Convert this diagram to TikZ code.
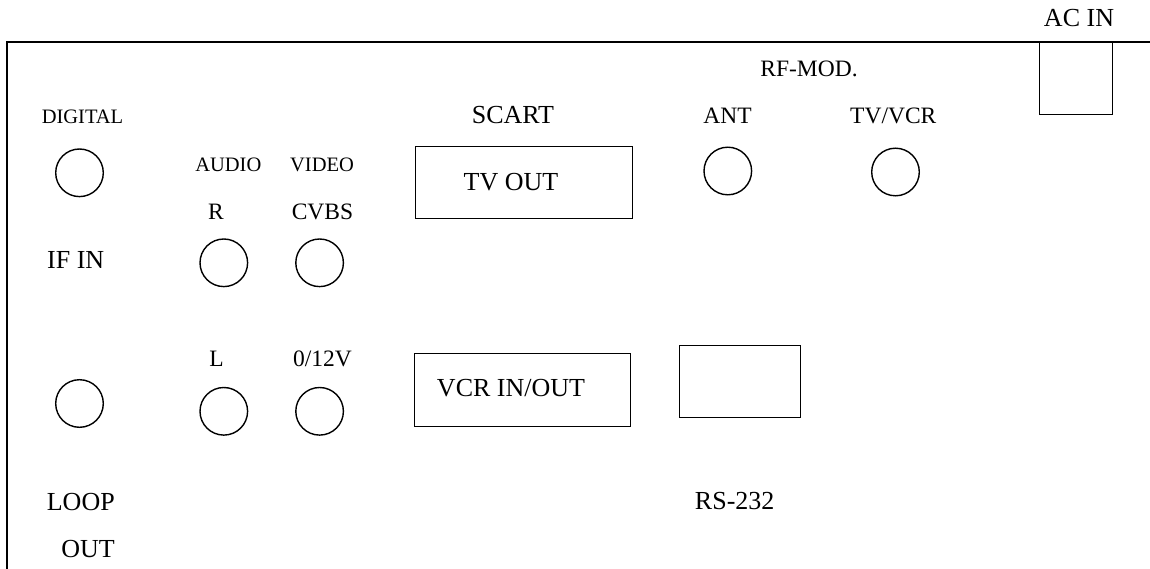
\documentclass[tikz,border=0pt]{standalone}
\usepackage{fontspec}
\setmainfont{Liberation Serif}
\begin{document}
\begin{tikzpicture}[x=1pt,y=-1pt,
  frameline/.style={line width=2pt, line join=miter},
  jack/.style={circle, draw, line width=1.4pt, minimum size=47.6pt, inner sep=0pt},
  port/.style={rectangle, draw, line width=1.4pt, inner sep=0pt},
  lblbig/.style={inner sep=0pt, text height=17pt, text depth=0pt, font=\fontsize{26}{30}\selectfont},
  lblmid/.style={inner sep=0pt, text height=15.4pt, text depth=0pt, font=\fontsize{23.5}{28}\selectfont},
  lblsmall/.style={inner sep=0pt, text height=13.4pt, text depth=0pt, font=\fontsize{20.5}{24}\selectfont}]
\useasboundingbox (0,0) rectangle (1150,569);
% panel frame
\coordinate (fbl) at (7,569);
\coordinate (ftl) at (7,42);
\coordinate (ftr) at (1150,42);
\draw[frameline] (fbl) -- (ftl) -- (ftr);
% AC IN
\node[port, minimum width=72.6pt, minimum height=72.3pt] (acbox) at (1076,78.2) {};
\node[lblbig] (aclbl) at (1079,18.5) {AC IN};
% RF modulator
\node[lblmid] (rflbl) at (809,69) {RF-MOD.};
\node[lblmid] (antlbl) at (727.5,116) {ANT};
\node[lblmid] (tvvcrlbl) at (893.3,116) {TV/VCR};
\node[jack] (ant) at (727.8,171) {};
\node[jack] (tvvcr) at (895.5,172) {};
% digital IF
\node[lblsmall] (diglbl) at (82.5,117) {DIGITAL};
\node[jack] (ifin) at (79.5,172.8) {};
\node[lblbig] (ifinlbl) at (75.7,260) {IF IN};
\node[jack] (loop) at (79.5,403.5) {};
\node[lblbig] (looplbl) at (80.8,501.5) {LOOP};
\node[lblbig] (outlbl) at (88,549) {OUT};
% audio / video
\node[lblsmall] (audiolbl) at (228.3,164.5) {AUDIO};
\node[lblsmall] (videolbl) at (322,164.5) {VIDEO};
\node[lblmid] (rlbl) at (216,211.5) {R};
\node[lblmid] (cvbslbl) at (322.5,211.5) {CVBS};
\node[jack] (aright) at (223.8,262.8) {};
\node[jack] (cvbs) at (319.6,262.8) {};
\node[lblmid] (llbl) at (216.5,358.5) {L};
\node[lblmid] (v12lbl) at (322.5,358.5) {0/12V};
\node[jack] (aleft) at (223.8,411.3) {};
\node[jack] (v12) at (319.6,411.3) {};
% SCART
\node[lblbig] (scartlbl) at (513,115.5) {SCART};
\node[port, minimum width=216.6pt, minimum height=71.6pt] (tvout) at (524,182.5) {};
\node[lblbig] (tvoutlbl) at (511,182) {TV OUT};
\node[port, minimum width=215.6pt, minimum height=72.6pt] (vcr) at (522.5,390) {};
\node[lblbig] (vcrlbl) at (511,388) {VCR IN/OUT};
% RS-232
\node[port, minimum width=120.6pt, minimum height=71.6pt] (rs) at (740,381.5) {};
\node[lblbig] (rslbl) at (734.7,500.5) {RS-232};
\end{tikzpicture}
\end{document}
